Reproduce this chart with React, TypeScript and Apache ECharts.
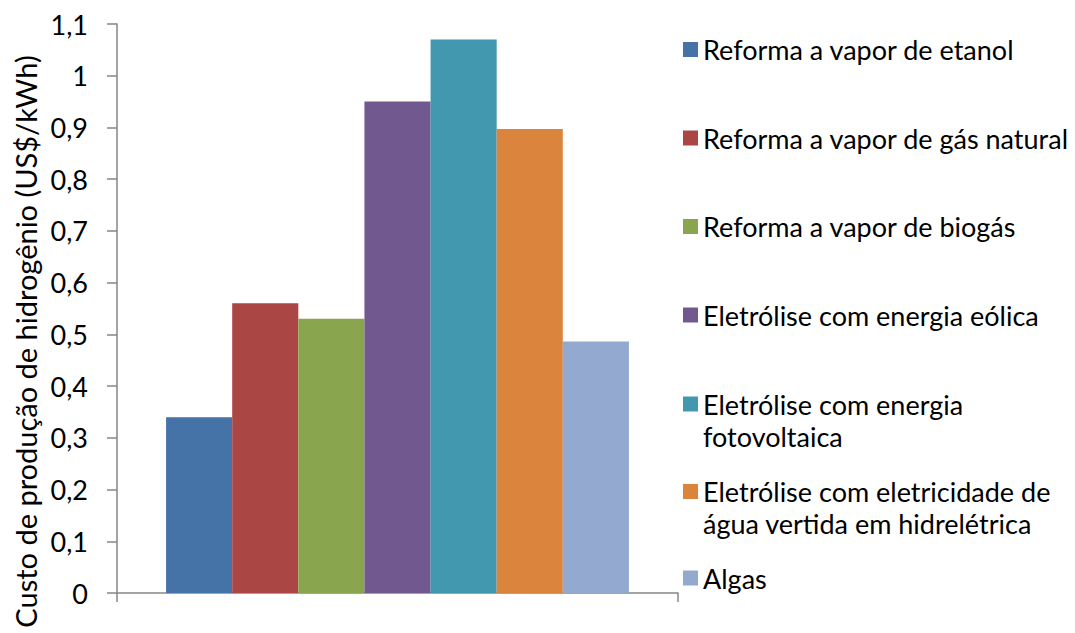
import React, { useEffect, useRef } from "react";
import * as echarts from "echarts";

const categories = ["Custo"];
const seriesNames = [
  "Reforma a vapor de etanol",
  "Reforma a vapor de gás natural",
  "Reforma a vapor de biogás",
  "Eletrólise com energia eólica",
  "Eletrólise com energia fotovoltaica",
  "Eletrólise com eletricidade de água vertida em hidrelétrica",
  "Algas",
];
const legendLabels = [
  "Reforma a vapor de etanol",
  "Reforma a vapor de gás natural",
  "Reforma a vapor de biogás",
  "Eletrólise com energia eólica",
  "\nEletrólise com energia\nfotovoltaica",
  "\nEletrólise com eletricidade de\nágua vertida em hidrelétrica",
  "Algas",
];
const seriesValues = [0.34, 0.56, 0.53, 0.95, 1.07, 0.897, 0.486];
const seriesColors = ["#4572A7", "#AA4643", "#89A54E", "#71588F", "#4198AF", "#DB843D", "#93A9CF"];
const yAxisTitle = "Custo de produção de hidrogênio (US$/kWh)";

const FONT = "Lato";

export default function App() {
  const ref = useRef<HTMLDivElement>(null);
  useEffect(() => {
    if (!ref.current) return;
    const chart = echarts.init(ref.current, undefined, { renderer: "svg" });
    const legendText = {
      fontFamily: FONT,
      fontSize: 27,
      color: "#000",
      lineHeight: 32,
    };
    const legendBase = {
      orient: "vertical" as const,
      left: 683,
      itemWidth: 15,
      itemHeight: 15,
      itemGap: 56.5,
      selectedMode: false,
      icon: "rect",
      padding: 0,
      textStyle: legendText,
      formatter: (name: string) => legendLabels[seriesNames.indexOf(name)],
    };
    chart.setOption({
      animation: false,
      backgroundColor: "#fff",
      grid: { left: 117, right: 397, top: 24, bottom: 40, containLabel: false },
      xAxis: {
        type: "category",
        data: categories,
        axisLine: { lineStyle: { color: "#868686", width: 1.5 } },
        axisTick: { show: true, length: 9, lineStyle: { color: "#868686", width: 1.5 } },
        axisLabel: { show: false },
      },
      yAxis: {
        type: "value",
        min: 0,
        max: 1.1,
        interval: 0.1,
        splitLine: { show: false },
        axisLine: { show: true, lineStyle: { color: "#868686", width: 1.5 } },
        axisTick: { show: true, length: 10, lineStyle: { color: "#868686", width: 1.5 } },
        axisLabel: {
          margin: 29,
          fontFamily: FONT,
          fontSize: 27,
          color: "#000",
          formatter: (v: number) => String(Number(v.toFixed(1))).replace(".", ","),
        },
      },
      legend: [
        { ...legendBase, top: 33.5, data: seriesNames.slice(0, 4) },
        { ...legendBase, top: 356, data: [seriesNames[4]] },
        { ...legendBase, top: 443.5, data: [seriesNames[5]] },
        { ...legendBase, top: 562, data: [seriesNames[6]] },
      ],
      graphic: [
        {
          type: "text",
          x: 25,
          y: 341.5,
          rotation: Math.PI / 2,
          style: {
            text: yAxisTitle,
            fontFamily: FONT,
            fontSize: 29,
            fill: "#000",
            textAlign: "center",
            textVerticalAlign: "middle",
          },
        },
      ],
      series: seriesNames.map((name, i) => ({
        name,
        type: "bar",
        data: [seriesValues[i]],
        barGap: "0%",
        barCategoryGap: "17.5%",
        itemStyle: { color: seriesColors[i] },
      })),
    });
    return () => chart.dispose();
  }, []);
  return (
    <div
      ref={ref}
      style={{ position: "fixed", left: 0, top: 0, width: 1075, height: 633, background: "#fff" }}
    />
  );
}
